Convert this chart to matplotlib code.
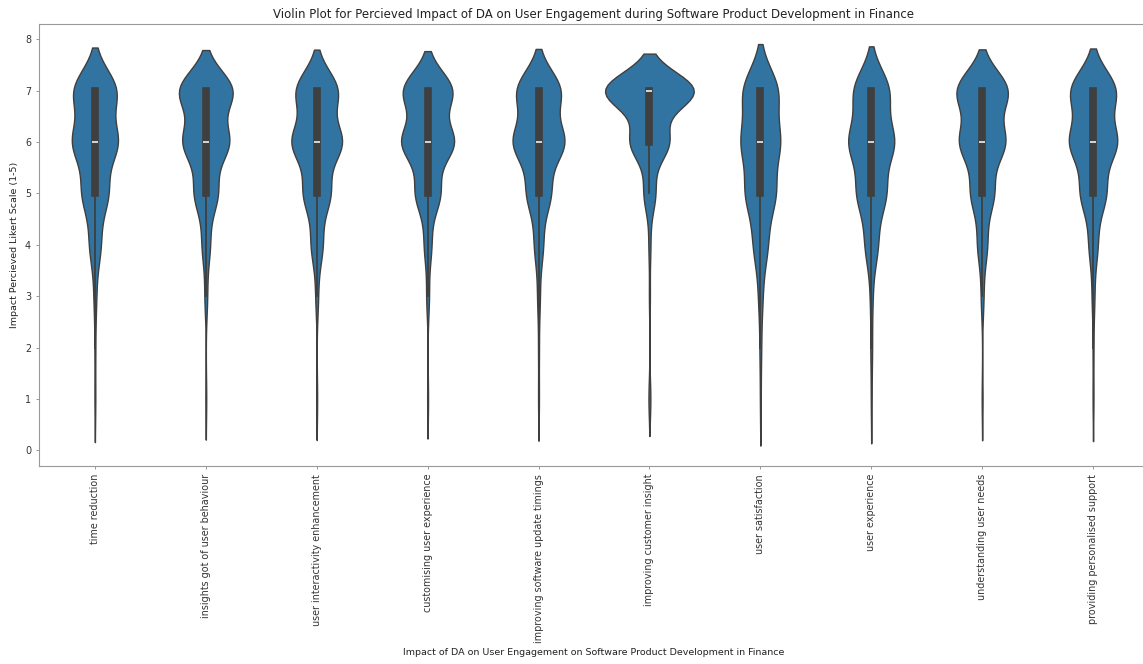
import numpy as np
import pandas as pd
import matplotlib
matplotlib.use("Agg")
import matplotlib.pyplot as plt
import seaborn as sns

# Likert answers per item: number of respondents giving 1..7
scores = [1, 2, 3, 4, 5, 6, 7]
items = [
    "time reduction",
    "insights got of user behaviour",
    "user interactivity enhancement",
    "customising user experience",
    "improving software update timings",
    "improving customer insight",
    "user satisfaction",
    "user experience",
    "understanding user needs",
    "providing personalised support",
]
time_reduction = [1, 1, 3, 13, 30, 52, 50]
insights_behaviour = [1, 0, 3, 9, 26, 51, 60]
interactivity = [1, 0, 3, 13, 30, 56, 47]
customising_ux = [1, 0, 3, 8, 27, 57, 54]
update_timings = [1, 1, 3, 10, 27, 58, 50]
customer_insight = [2, 0, 1, 2, 12, 40, 93]
satisfaction = [1, 2, 5, 17, 36, 46, 43]
user_experience = [1, 2, 3, 15, 34, 53, 42]
user_needs = [1, 0, 3, 11, 26, 51, 58]
personalised_support = [1, 1, 3, 10, 29, 54, 52]

counts = [time_reduction, insights_behaviour, interactivity, customising_ux,
          update_timings, customer_insight, satisfaction, user_experience,
          user_needs, personalised_support]

rows = []
for item, c in zip(items, counts):
    for s, n in zip(scores, c):
        rows += [(item, s)] * n
df = pd.DataFrame(rows, columns=["item", "score"])

fig = plt.figure(figsize=(11.43, 6.64), dpi=100)
ax = fig.add_axes([0.0345, 0.2987, 0.9703, 0.6652])

sns.violinplot(data=df, x="item", y="score", order=items, ax=ax,
               linewidth=1.0, inner_kws=dict(box_width=5.5, whis_width=1.3))

ax.set_title("Violin Plot for Percieved Impact of DA on User Engagement during Software Product Development in Finance",
             fontsize=8.5, pad=4, color="#222222")
ax.set_xlabel("Impact of DA on User Engagement on Software Product Development in Finance",
              fontsize=6.8, color="#222222")
ax.set_ylabel("Impact Percieved Likert Scale (1-5)", fontsize=6.8, color="#222222")
ax.tick_params(axis="x", labelrotation=90, labelsize=6.9, length=2.5, width=0.6,
               color="#888888", labelcolor="#333333")
ax.tick_params(axis="y", labelsize=6.9, length=2.5, width=0.6,
               color="#888888", labelcolor="#333333")
for sp in ax.spines.values():
    sp.set_linewidth(0.8)
    sp.set_color("#999999")

fig.savefig("out.png", dpi=100)
